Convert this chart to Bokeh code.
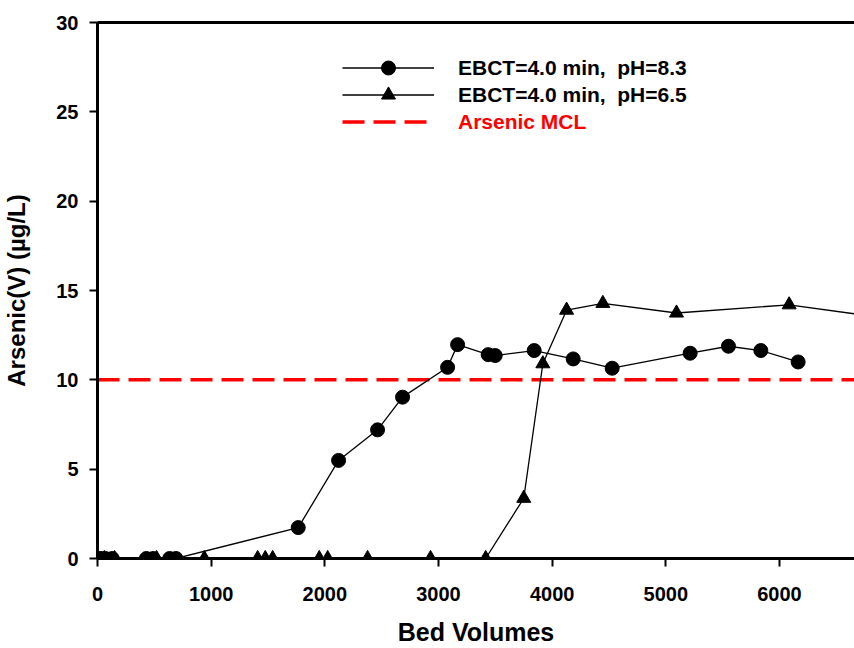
from bokeh.plotting import figure
from bokeh.models import (ColumnDataSource, Range1d, LinearAxis, FixedTicker,
                          Legend, LegendItem)
from bokeh.embed import file_html
from bokeh.resources import INLINE

# ---- data ----
bv_ph83 = [0, 30, 70, 130, 430, 490, 635, 690, 1766, 2121, 2464, 2684, 3080, 3168,
           3437, 3499, 3842, 4185, 4528, 5214, 5551, 5836, 6164]
as_ph83 = [0, 0, 0, 0, 0, 0, 0, 0, 1.73, 5.49, 7.2, 9.03, 10.7, 11.97,
           11.41, 11.36, 11.64, 11.17, 10.65, 11.49, 11.88, 11.64, 11.0]

bv_ph65 = [0, 60, 150, 520, 940, 1409, 1476, 1541, 1951, 2025, 2376, 2930, 3415,
           3750, 3918, 4127, 4446, 5094, 6085, 6800]
as_ph65 = [0, 0, 0, 0, 0, 0, 0, 0, 0, 0, 0, 0, 0,
           3.37, 10.9, 13.9, 14.28, 13.74, 14.2, 13.57]

mcl = 10
x_start, x_end = 0, 6660
y_start, y_end = 0, 30
x_ticks = [0, 1000, 2000, 3000, 4000, 5000, 6000]
y_ticks = [0, 5, 10, 15, 20, 25, 30]
labels = ["EBCT=4.0 min,  pH=8.3", "EBCT=4.0 min,  pH=6.5", "Arsenic MCL"]

FONT = "Liberation Sans"

p = figure(width=854, height=648, output_backend="svg", toolbar_location=None,
           x_range=Range1d(x_start, x_end), y_range=Range1d(y_start, y_end),
           min_border_left=97, min_border_right=0, min_border_top=22, min_border_bottom=90)
p.outline_line_color = None
p.xgrid.visible = False
p.ygrid.visible = False
p.background_fill_color = "white"
p.border_fill_color = "white"

for ax in (p.xaxis[0], p.yaxis[0]):
    ax.axis_line_width = 3
    ax.axis_line_color = "black"
    ax.major_tick_line_width = 2
    ax.major_tick_out = 8
    ax.major_tick_in = 0
    ax.minor_tick_line_color = None
    ax.major_label_text_font = FONT
    ax.major_label_text_font_style = "bold"
    ax.major_label_text_font_size = "20px"
    ax.major_label_text_color = "black"
    ax.axis_label_text_font = FONT
    ax.axis_label_text_font_style = "bold"
    ax.axis_label_text_color = "black"

p.xaxis[0].ticker = FixedTicker(ticks=x_ticks)
p.yaxis[0].ticker = FixedTicker(ticks=y_ticks)
p.xaxis[0].axis_label = "Bed Volumes"
p.yaxis[0].axis_label = "Arsenic(V) (µg/L)"
p.xaxis[0].axis_label_text_font_size = "25px"
p.yaxis[0].axis_label_text_font_size = "24px"
p.xaxis[0].major_label_standoff = 20
p.yaxis[0].major_label_standoff = 11
p.xaxis[0].axis_label_standoff = 14
p.yaxis[0].axis_label_standoff = 23

top = LinearAxis(ticker=FixedTicker(ticks=[]), axis_line_width=3, axis_line_color="black",
                 major_tick_line_color=None, minor_tick_line_color=None,
                 major_label_text_font_size="0px")
p.add_layout(top, "above")

s1 = ColumnDataSource(dict(x=bv_ph83, y=as_ph83))
s2 = ColumnDataSource(dict(x=bv_ph65, y=as_ph65))
s3 = ColumnDataSource(dict(x=[x_start, x_end], y=[mcl, mcl]))

# MCL line
r_mcl = p.line("x", "y", source=s3, line_color="red", line_width=3.5, line_dash="22 9")

l1 = p.line("x", "y", source=s1, line_color="black", line_width=1.3)
m1 = p.scatter("x", "y", source=s1, marker="circle", size=14,
               fill_color="black", line_color="black")
l2 = p.line("x", "y", source=s2, line_color="black", line_width=1.3)
m2 = p.scatter("x", "y", source=s2, marker="triangle", size=14,
               fill_color="black", line_color="black")

common = dict(border_line_color=None, background_fill_alpha=0, padding=0, margin=0,
              spacing=0, glyph_width=92, glyph_height=35, label_height=35,
              label_standoff=24, label_text_font=FONT, label_text_font_style="bold",
              label_text_font_size="21px")
frame_bottom = 558.3
row_centers = [68, 94.5, 122]
items = [([l1, m1], "black"), ([l2, m2], "black"), ([r_mcl], "red")]
for (rends, col), lab, cy in zip(items, labels, row_centers):
    lg = Legend(items=[LegendItem(label=lab, renderers=rends)],
                location=(245, int(round(frame_bottom - cy - 17.5))),
                label_text_color=col, **common)
    p.add_layout(lg, "center")

open("out.html", "w").write(file_html(p, INLINE))
